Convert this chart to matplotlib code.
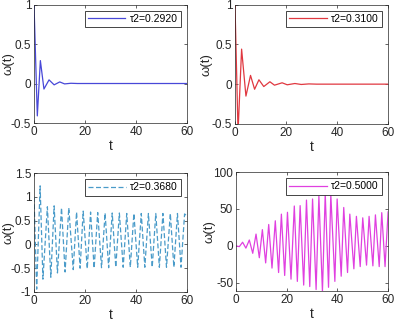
import numpy as np
import matplotlib
matplotlib.use("Agg")
import matplotlib.pyplot as plt

plt.rcParams['font.family'] = ['Liberation Sans', 'DejaVu Sans']

# tau2 = 0.2920 (extrema)
t1 = [0, 1.3, 2.5, 3.9, 5.9, 7.9, 10.1, 12.0, 14.5, 17, 60]
w1 = [1.0, -0.41, 0.29, -0.07, 0.046, -0.017, 0.02, -0.005, 0.003, 0.0, 0.0]

# tau2 = 0.3100
t2 = [0, 1.2, 2.6, 4.3, 6.1, 7.7, 9.4, 11.3, 13.7, 15.5, 18.5, 20.5, 23.5, 26, 29, 32, 60]
w2 = [1.0, -0.6, 0.44, -0.15, 0.11, -0.064, 0.055, -0.03, 0.03, -0.013, 0.017,
      -0.008, 0.008, -0.004, 0.003, 0.0, 0.0]

# tau2 = 0.3680
t3 = [0, 1.05, 2.4, 3.5, 5.25, 6.6, 7.9, 9.2, 10.8, 12.2, 13.65, 15.4, 16.7, 18.1,
      19.3, 20.9, 22.2, 23.6, 25.0, 26.5, 27.9, 29.3, 30.7, 32.1, 33.5, 35.0, 36.4,
      37.8, 39.2, 40.7, 42.1, 43.5, 44.9, 46.4, 47.8, 49.2, 50.6, 52.0, 53.5, 54.9,
      56.3, 57.7, 59.1, 60]
w3 = [1.0, -0.94, 1.23, -0.73, 0.79, -0.69, 0.81, -0.6, 0.77, -0.58, 0.77, -0.53,
      0.68, -0.5, 0.7, -0.51, 0.68, -0.5, 0.67, -0.49, 0.66, -0.49, 0.66, -0.48,
      0.66, -0.48, 0.65, -0.48, 0.65, -0.48, 0.65, -0.48, 0.65, -0.48, 0.65, -0.48,
      0.65, -0.48, 0.65, -0.48, 0.65, -0.48, 0.64, 0.6]

# tau2 = 0.5000
t4 = [0, 1.3, 2.6, 3.9, 5.25, 6.6, 7.9, 9.2, 10.4, 11.7, 12.9, 14.2, 15.5, 16.8,
      17.9, 19.2, 20.3, 21.7, 23.0, 24.2, 25.3, 26.7, 27.8, 29.1, 30.2, 31.6, 32.7,
      34.1, 35.2, 36.5, 37.4, 39.0, 39.9, 41.5, 42.5, 44.0, 44.9, 46.5, 47.5, 49.0,
      50.0, 51.5, 52.5, 54.0, 55.0, 56.5, 57.5, 58.8, 60]
w4 = [0, -1, 5, -3, 8, -10, 16, -16, 22, -23, 29, -30, 34, -36, 43, -40, 45.5, -45,
      54, -48, 54.5, -53, 62, -55, 63.5, -59, 67.5, -62, 71, -56, 70, -48, 63.5,
      -41, 52, -36, 43, -31, 40, -28, 38, -26, 40, -27, 42, -28, 45, -28, 46]

panels = [
    (t1, w1, '#4848d8', '-', 'τ2=0.2920', (-0.5, 1), [-0.5, 0, 0.5, 1], ['-0.5', '0', '0.5', '1'],
     [0.0863, 0.618, 0.388, 0.368], -0.13),
    (t2, w2, '#e03840', '-', 'τ2=0.3100', (-0.5, 1), [-0.5, 0, 0.5, 1], ['-0.5', '0', '0.5', '1'],
     [0.5964, 0.615, 0.388, 0.371], -0.15),
    (t3, w3, '#4a9bc9', '--', 'τ2=0.3680', (-1, 1.5), [-1, -0.5, 0, 0.5, 1, 1.5],
     ['-1', '-0.5', '0', '0.5', '1', '1.5'], [0.0863, 0.0932, 0.388, 0.3695], -0.13),
    (t4, w4, '#e040e0', '-', 'τ2=0.5000', (-61, 100), [-50, 0, 50, 100],
     ['-50', '0', '50', '100'], [0.599, 0.0963, 0.386, 0.3695], -0.135),
]

fig = plt.figure(figsize=(3.94, 3.22), dpi=100)
for t, w, col, ls, lab, ylim, yt, ytl, pos, ylx in panels:
    ax = fig.add_axes(pos)
    ax.plot(t, w, color=col, linestyle=ls, linewidth=0.9, label=lab,
            dashes=(4, 2) if ls == '--' else (None, None))
    ax.set_xlim(0, 60)
    ax.set_ylim(*ylim)
    ax.set_xticks([0, 20, 40, 60])
    ax.set_yticks(yt)
    ax.set_yticklabels(ytl)
    ax.tick_params(direction='in', length=2.5, width=0.5, labelsize=8.5,
                   colors='#262626', top=True, right=True, pad=2)
    for s in ax.spines.values():
        s.set_linewidth(0.5)
        s.set_color('#262626')
    ax.set_xlabel('t', fontsize=10, color='#262626', labelpad=1)
    ax.set_ylabel('ω(t)', fontsize=9.5, color='#262626')
    ax.yaxis.set_label_coords(ylx, 0.5)
    leg = ax.legend(loc='upper right', fontsize=7.5, fancybox=False, framealpha=1,
                    edgecolor='#262626', borderpad=0.3, handlelength=3.6,
                    handletextpad=0.4, borderaxespad=0.6)
    leg.get_frame().set_linewidth(0.6)

fig.savefig('out.png', dpi=100)
